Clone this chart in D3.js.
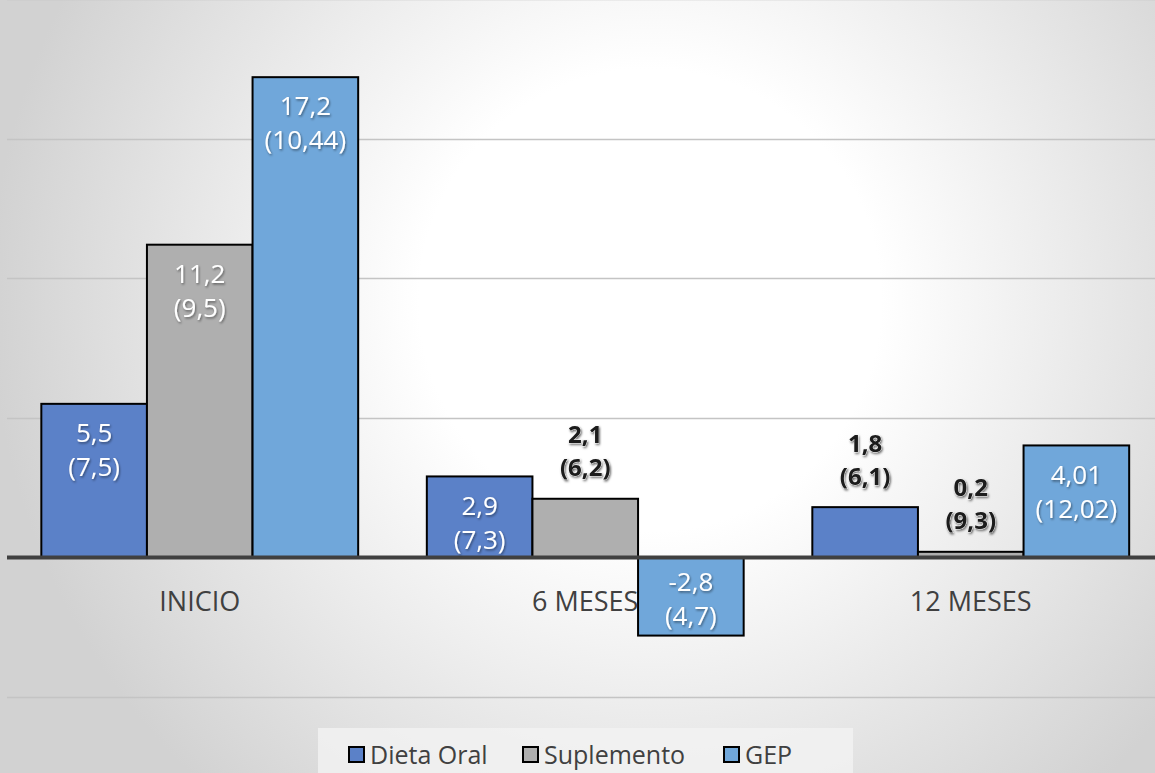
<!DOCTYPE html>
<html>
<head>
<meta charset="utf-8">
<script src="https://cdn.jsdelivr.net/npm/d3@7"></script>
<style>
  html, body { margin: 0; padding: 0; background: #fff; }
  svg { display: block; font-family: "Open Sans", "Noto Sans", sans-serif; }
</style>
</head>
<body>
<svg id="chart" width="1155" height="773"></svg>
<script>
// Categories (time points) and series
const categories = ["INICIO", "6 MESES", "12 MESES"];
const seriesNames = ["Dieta Oral", "Suplemento", "GEP"];
const seriesColors = ["#5b81c8", "#afafaf", "#70a7da"];

// Mean change per series, with its standard deviation shown in parentheses
const dietaOral = [5.5, 2.9, 1.8];
const dietaOralSD = [7.5, 7.3, 6.1];
const suplemento = [11.2, 2.1, 0.2];
const suplementoSD = [9.5, 6.2, 9.3];
const gep = [17.2, -2.8, 4.01];
const gepSD = [10.44, 4.7, 12.02];

const yTicks = [-5, 0, 5, 10, 15, 20];

const seriesValues = [dietaOral, suplemento, gep];
const seriesSD = [dietaOralSD, suplementoSD, gepSD];

const W = 1155, H = 773;
const svg = d3.select("#chart");
const defs = svg.append("defs");

// Soft radial background
const bg = defs.append("radialGradient")
  .attr("id", "bgGrad")
  .attr("gradientUnits", "userSpaceOnUse")
  .attr("cx", 650).attr("cy", 300).attr("r", 660);
bg.append("stop").attr("offset", "0").attr("stop-color", "#ffffff");
bg.append("stop").attr("offset", "0.35").attr("stop-color", "#ffffff");
bg.append("stop").attr("offset", "1").attr("stop-color", "#d2d2d2");
svg.append("rect").attr("width", W).attr("height", H).attr("fill", "url(#bgGrad)");

// Shadow for the white labels inside bars
const sh = defs.append("filter").attr("id", "lblShadow")
  .attr("x", "-20%").attr("y", "-20%").attr("width", "140%").attr("height", "160%");
sh.append("feDropShadow").attr("dx", 1).attr("dy", 1.5).attr("stdDeviation", 1)
  .attr("flood-color", "#000").attr("flood-opacity", 0.45);

// Glow for the dark labels above short bars
const gl = defs.append("filter").attr("id", "lblGlow")
  .attr("x", "-20%").attr("y", "-30%").attr("width", "140%").attr("height", "160%");
gl.append("feDropShadow").attr("dx", 1).attr("dy", 1.5).attr("stdDeviation", 1.3)
  .attr("flood-color", "#000").attr("flood-opacity", 0.6);

// Scales
const x0 = d3.scaleBand().domain(categories).range([7, 1163.5]).paddingInner(0).paddingOuter(0);
const gapFrac = 0.65 / 3.65 / 2;
const x1 = d3.scaleBand().domain(seriesNames)
  .range([x0.bandwidth() * gapFrac, x0.bandwidth() * (1 - gapFrac)]);
const y = d3.scaleLinear().domain([-5, 20]).range([697, -1]);

// Gridlines
svg.append("g")
  .selectAll("line")
  .data(yTicks.filter(t => t !== 0))
  .join("line")
  .attr("x1", 7).attr("x2", W)
  .attr("y1", d => Math.round(y(d)) + 0.5).attr("y2", d => Math.round(y(d)) + 0.5)
  .attr("stroke", "#c4c4c4").attr("stroke-width", 1.5);

// Bars
const flat = [];
seriesNames.forEach((s, si) => {
  categories.forEach((c, ci) => {
    flat.push({ series: s, si, cat: c, value: seriesValues[si][ci], sd: seriesSD[si][ci] });
  });
});

svg.append("g")
  .selectAll("rect")
  .data(flat)
  .join("rect")
  .attr("x", d => x0(d.cat) + x1(d.series))
  .attr("width", x1.bandwidth())
  .attr("y", d => Math.min(y(d.value), y(0)))
  .attr("height", d => Math.abs(y(d.value) - y(0)))
  .attr("fill", d => seriesColors[d.si])
  .attr("stroke", "#000").attr("stroke-width", 2);

// Zero axis line
svg.append("line")
  .attr("x1", 7).attr("x2", W)
  .attr("y1", y(0)).attr("y2", y(0))
  .attr("stroke", "#404040").attr("stroke-width", 4);

// Category labels
svg.append("g")
  .selectAll("text")
  .data(categories)
  .join("text")
  .attr("x", d => x0(d) + x0.bandwidth() / 2)
  .attr("y", 611)
  .attr("text-anchor", "middle")
  .attr("font-size", 27)
  .attr("fill", "#404040")
  .text(d => d);

// Data labels: mean and (SD)
const fmt = v => String(v).replace(".", ",");
const lbl = svg.append("g");
flat.forEach(d => {
  const cx = x0(d.cat) + x1(d.series) + x1.bandwidth() / 2;
  const h = Math.abs(y(d.value) - y(0));
  const inside = h >= 70;
  let y1, y2;
  if (inside) {
    if (d.value >= 0) { y1 = y(d.value) + 29; y2 = y(d.value) + 63; }
    else { y1 = y(0) + 24; y2 = y(0) + 58; }
  } else {
    y1 = y(d.value) - 64; y2 = y(d.value) - 31;
  }
  const t = lbl.append("text")
    .attr("text-anchor", "middle")
    .attr("font-size", inside ? 26 : 24)
    .attr("font-weight", inside ? 400 : 700)
    .attr("fill", inside ? "#ffffff" : "#1a1a1a")
    .attr("filter", inside ? "url(#lblShadow)" : "url(#lblGlow)");
  if (!inside) t.attr("stroke", "#f4f4f4").attr("stroke-width", 0.6).attr("paint-order", "stroke");
  t.append("tspan").attr("x", cx).attr("y", y1).attr("dy", "0.35em").text(fmt(d.value));
  t.append("tspan").attr("x", cx).attr("y", y2).attr("dy", "0.35em").text("(" + fmt(d.sd) + ")");
});

// Legend
const legend = svg.append("g");
legend.append("rect")
  .attr("x", 318).attr("y", 728).attr("width", 535).attr("height", 50)
  .attr("fill", "#f2f2f2").attr("fill-opacity", 0.8);
const legendX = [349, 523, 724];
seriesNames.forEach((s, i) => {
  legend.append("rect")
    .attr("x", legendX[i]).attr("y", 747).attr("width", 15).attr("height", 15)
    .attr("fill", seriesColors[i]).attr("stroke", "#000").attr("stroke-width", 2);
  legend.append("text")
    .attr("x", legendX[i] + 21).attr("y", 764)
    .attr("font-size", 25).attr("fill", "#404040")
    .text(s);
});
</script>
</body>
</html>
